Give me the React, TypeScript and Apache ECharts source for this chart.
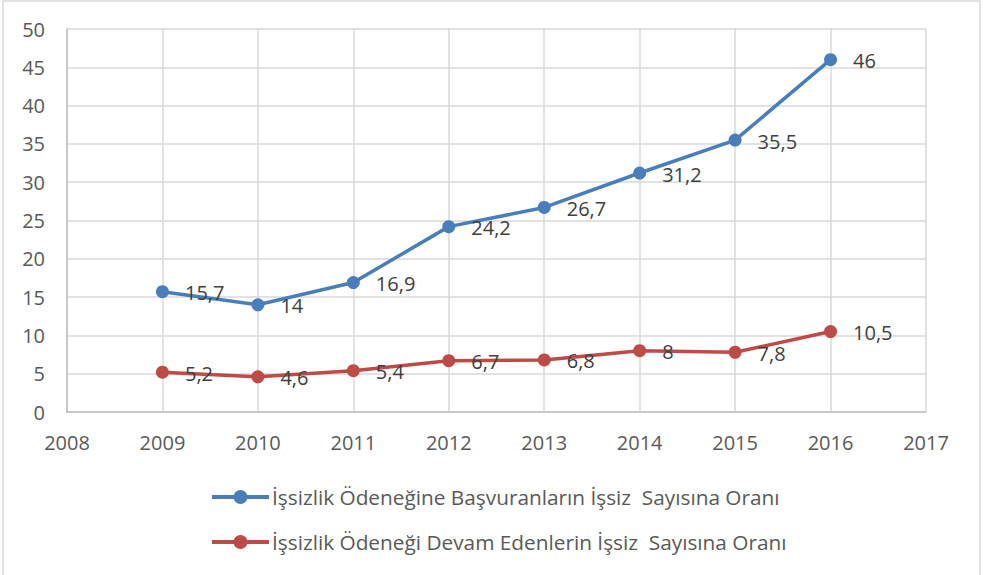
import React, { useEffect, useRef } from "react";
import * as echarts from "echarts";

const years = [2009, 2010, 2011, 2012, 2013, 2014, 2015, 2016];
const basvuranlar = [15.7, 14, 16.9, 24.2, 26.7, 31.2, 35.5, 46];
const devamEdenler = [5.2, 4.6, 5.4, 6.7, 6.8, 8, 7.8, 10.5];
const seriesNames = [
  "İşsizlik Ödeneğine Başvuranların İşsiz  Sayısına Oranı",
  "İşsizlik Ödeneği Devam Edenlerin İşsiz  Sayısına Oranı",
];
const colors = ["#4a7ebb", "#be4b48"];

const FONT = "'Open Sans', 'DejaVu Sans', sans-serif";

export default function App() {
  const ref = useRef<HTMLDivElement>(null);
  useEffect(() => {
    document.body.style.margin = "0";
    const chart = echarts.init(ref.current!, null, { renderer: "svg" });
    const fmt = (p: any) => String(p.value[1]).replace(".", ",");
    const mk = (name: string, vals: number[], color: string) => ({
      name,
      type: "line",
      data: years.map((y, i) => [y, vals[i]]),
      symbol: "circle",
      symbolSize: 13,
      lineStyle: { width: 3.5, color },
      itemStyle: { color },
      label: {
        show: true,
        position: "right",
        distance: 16,
        offset: [0, 1],
        formatter: fmt,
        color: "#404040",
        fontSize: 20,
        fontFamily: FONT,
      },
    });
    chart.setOption({
      animation: false,
      graphic: [
        {
          type: "rect",
          shape: { x: 3, y: 1, width: 977, height: 580 },
          style: { fill: "none", stroke: "#d9d9d9", lineWidth: 1.5 },
          silent: true,
        },
      ],
      grid: { left: 67, right: 60, top: 29, bottom: 163 },
      xAxis: {
        type: "value",
        min: 2008,
        max: 2017,
        interval: 1,
        axisLine: { show: true, lineStyle: { color: "#bfbfbf", width: 1.5 } },
        axisTick: { show: false },
        splitLine: { show: true, lineStyle: { color: "#d9d9d9", width: 1.5 } },
        axisLabel: {
          color: "#595959",
          fontSize: 20,
          fontFamily: FONT,
          margin: 20,
          formatter: (v: number) => String(v),
        },
      },
      yAxis: {
        type: "value",
        min: 0,
        max: 50,
        interval: 5,
        axisLine: { show: true, lineStyle: { color: "#bfbfbf", width: 1.5 } },
        axisTick: { show: false },
        splitLine: { show: true, lineStyle: { color: "#d9d9d9", width: 1.5 } },
        axisLabel: {
          color: "#595959",
          fontSize: 20,
          fontFamily: FONT,
          margin: 22,
        },
      },
      legend: {
        orient: "vertical",
        left: 205,
        top: 480,
        itemWidth: 57,
        itemHeight: 17.5,
        itemGap: 21,
        lineStyle: { width: 4 },
        textStyle: {
          color: "#595959",
          fontSize: 20.8,
          lineHeight: 24,
          fontFamily: FONT,
          padding: [0, 0, 0, -2],
        },
        data: seriesNames,
      },
      series: [
        mk(seriesNames[0], basvuranlar, colors[0]),
        mk(seriesNames[1], devamEdenler, colors[1]),
      ],
    });
    return () => chart.dispose();
  }, []);
  return (
    <div
      ref={ref}
      style={{ position: "absolute", left: 0, top: 0, width: 986, height: 575, background: "#fff" }}
    />
  );
}
